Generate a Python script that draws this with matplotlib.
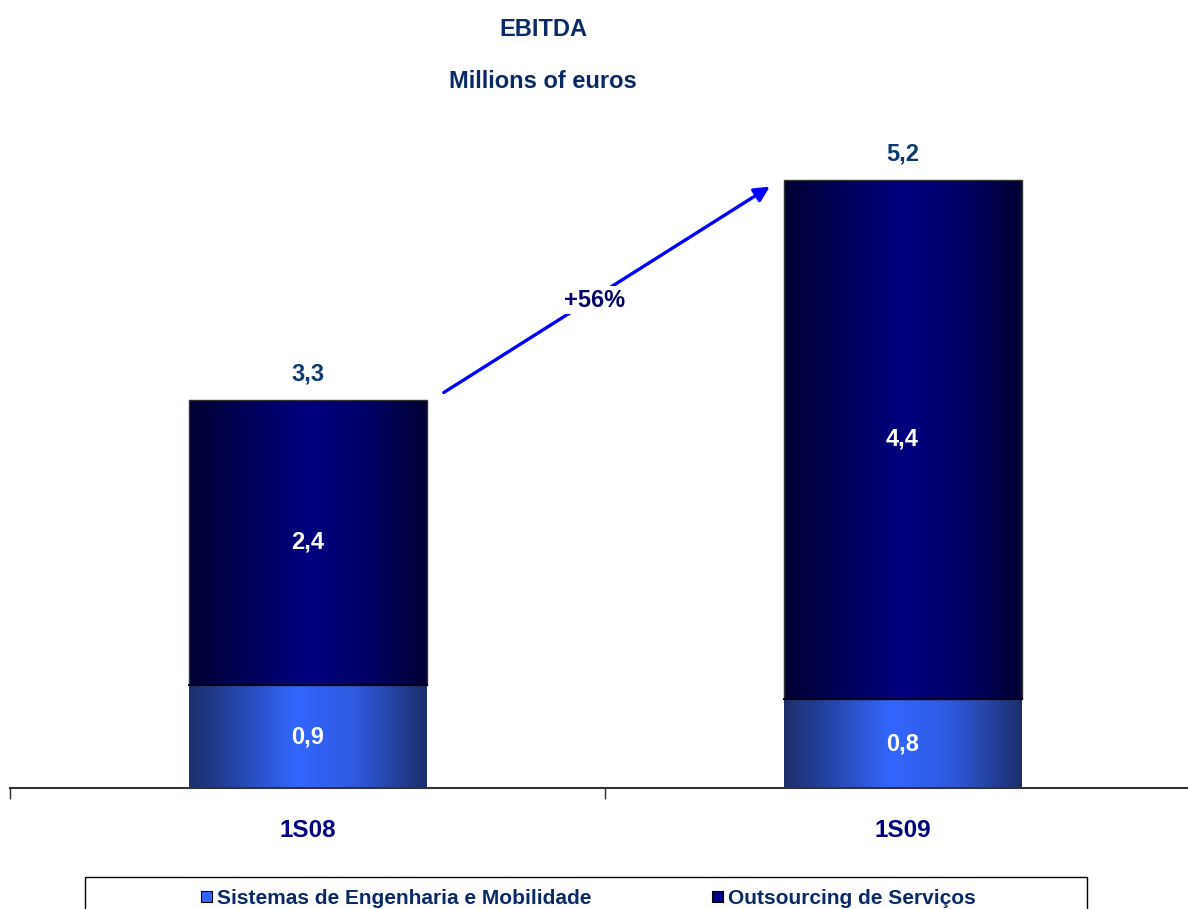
import numpy as np
import matplotlib
matplotlib.use("Agg")
import matplotlib.pyplot as plt
from matplotlib.colors import LinearSegmentedColormap
from matplotlib.patches import Rectangle

plt.rcParams["font.family"] = ["Liberation Sans", "DejaVu Sans"]
plt.rcParams["font.weight"] = "bold"

# データ
categories = ["1S08", "1S09"]
sistemas = [0.88, 0.76]        # Sistemas de Engenharia e Mobilidade
outsourcing = [2.44, 4.44]     # Outsourcing de Serviços
growth_label = "+56%"
legend_labels = ["Sistemas de Engenharia e Mobilidade", "Outsourcing de Serviços"]

W, H = 1188, 909
BAR_W = 0.40
NAVY = "#0a2a66"

# 横方向のグラデーション（端が暗く中央が明るい）
cmap_low = LinearSegmentedColormap.from_list(
    "low", [(0, "#1c2f6c"), (0.15, "#22409a"), (0.45, "#3366ff"),
            (0.7, "#2f5ae0"), (1, "#1c2f6c")])
cmap_high = LinearSegmentedColormap.from_list(
    "high", [(0, "#000033"), (0.15, "#00004a"), (0.5, "#000080"),
             (0.75, "#000066"), (1, "#000033")])


def fmt(v):
    return f"{v:.1f}".replace(".", ",")


def gradient_bar(ax, x, y0, h, cmap):
    grad = np.linspace(0, 1, 256).reshape(1, -1)
    im = ax.imshow(grad, cmap=cmap, aspect="auto",
                   extent=(x - BAR_W / 2, x + BAR_W / 2, y0, y0 + h),
                   zorder=2, interpolation="bicubic")
    rect = Rectangle((x - BAR_W / 2, y0), BAR_W, h, facecolor="none",
                     edgecolor="none", transform=ax.transData)
    ax.add_patch(rect)
    im.set_clip_path(rect)
    return rect


fig = plt.figure(figsize=(W / 100, H / 100), dpi=100)
# 軸の位置（ピクセル基準）
ax = fig.add_axes([10 / W, (H - 788) / H, 1190 / W, 702 / H])
ax.set_xlim(-0.5, 1.5)
ax.set_ylim(0, 6)

x = np.arange(len(categories))
for i in x:
    b = sistemas[i]
    t = outsourcing[i]
    gradient_bar(ax, i, 0, b, cmap_low)
    gradient_bar(ax, i, b, t, cmap_high)
    ax.add_patch(Rectangle((i - BAR_W / 2, b), BAR_W, t, facecolor="none",
                           edgecolor="#333333", lw=1.0, zorder=3))
    ax.plot([i - BAR_W / 2, i + BAR_W / 2], [b, b], color="#000022",
            lw=1.5, zorder=3)
    ax.text(i, b / 2, fmt(b), ha="center", va="center", color="white",
            fontsize=17, fontweight="bold", zorder=4)
    ax.text(i, b + t / 2, fmt(t), ha="center", va="center", color="white",
            fontsize=17, fontweight="bold", zorder=4)
    ax.text(i, b + t + 0.12, fmt(b + t), ha="center", va="bottom",
            color="#0b3a6e", fontsize=17, fontweight="bold", zorder=4)

# 成長率の矢印
ax.annotate("", xy=(0.777, 5.14), xytext=(0.229, 3.38),
            arrowprops=dict(arrowstyle="-|>,head_length=0.9,head_width=0.45",
                            color="#0000ff", lw=2.4, shrinkA=0, shrinkB=0),
            zorder=5)
ax.text(0.483, 4.17, growth_label, ha="center", va="center", color="#000066",
        fontsize=17, fontweight="bold", zorder=6,
        bbox=dict(facecolor="white", edgecolor="none", pad=2))

# 軸
for s in ["left", "right", "top"]:
    ax.spines[s].set_visible(False)
ax.spines["bottom"].set_color("#333333")
ax.spines["bottom"].set_linewidth(1.5)
ax.spines["bottom"].set_zorder(6)
ax.set_yticks([])
ax.set_xticks([-0.5, 0.5, 1.5])
ax.set_xticklabels([])
ax.set_xticks(x, minor=True)
ax.set_xticklabels(categories, minor=True)
ax.tick_params(axis="x", which="major", length=8, width=1, color="#333333",
               direction="out")
ax.tick_params(axis="x", which="minor", length=0, pad=22, labelsize=17.5,
               labelcolor="#000080")

# タイトル
fig.text(543 / W, 1 - 30 / H, "EBITDA", ha="center", va="center",
         color=NAVY, fontsize=17, fontweight="bold")
fig.text(543 / W, 1 - 81 / H, "Millions of euros", ha="center", va="center",
         color=NAVY, fontsize=17, fontweight="bold")

# 凡例（下端で切れている枠）
fig.patches.append(Rectangle((85 / W, -20 / H), 1002 / W, (909 - 877 + 20) / H,
                             transform=fig.transFigure, facecolor="white",
                             edgecolor="black", lw=1.0))
legend_colors = ["#3366ff", "#000080"]
legend_x = [201, 712]
for lx, c, lab in zip(legend_x, legend_colors, legend_labels):
    fig.patches.append(Rectangle((lx / W, 1 - 902 / H), 11 / W, 11 / H,
                                 transform=fig.transFigure, facecolor=c,
                                 edgecolor="black", lw=0.8))
    fig.text((lx + 16) / W, 1 - 898 / H, lab, ha="left", va="center",
             color=NAVY, fontsize=15, fontweight="bold")

fig.savefig("out.png", dpi=100)
